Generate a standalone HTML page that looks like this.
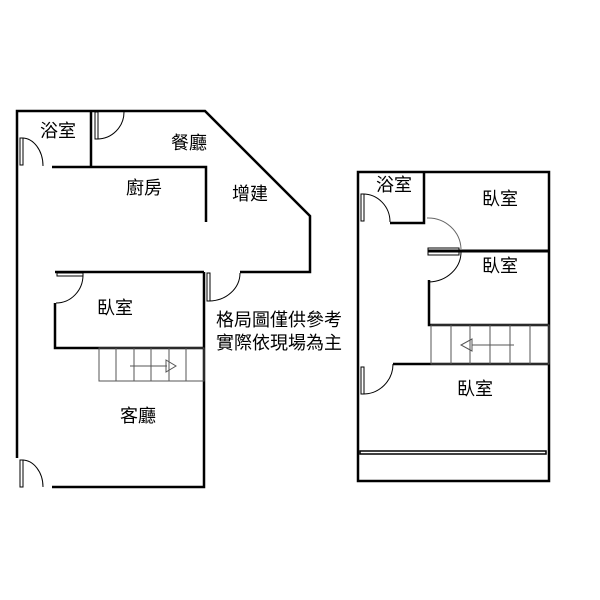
<!DOCTYPE html>
<html><head><meta charset="utf-8"><style>
html,body{margin:0;padding:0;background:#fff;}
svg{display:block}
text{font-family:"Liberation Sans","Noto Sans CJK TC",sans-serif;font-size:18px;fill:#000}
</style></head><body>
<svg width="600" height="600" viewBox="0 0 600 600" xmlns="http://www.w3.org/2000/svg">
<g fill="none" stroke="#000" stroke-width="2.5">
<polyline points="52,487 204,487 204,272"/>
<polyline points="17,458 17,111 205,111 310,216 310,272 240,272"/>
<line x1="91" y1="111" x2="91" y2="166"/>
<polyline points="52,167 206,167 206,222"/>
<polyline points="55,303 55,348 204,348"/>
<line x1="55" y1="272" x2="204" y2="272"/>
<rect x="358" y="172" width="191" height="309"/>
<polyline points="390,223 424,223 424,172"/>
<line x1="428" y1="251" x2="549" y2="251" stroke-width="3"/>
<polyline points="429,280 429,325 549,325"/>
<line x1="393" y1="364" x2="549" y2="364"/>
</g>
<g fill="none" stroke="#000" stroke-width="1">
<rect x="20" y="138" width="3" height="27"/>
<path d="M22,138 A21,28 0 0 1 43,166"/>
<rect x="95" y="112" width="3" height="27"/>
<path d="M97,139 A27,27 0 0 0 124,112"/>
<rect x="57" y="273" width="26" height="3"/>
<path d="M83,275 A27,28 0 0 1 56,303"/>
<rect x="207" y="273" width="3" height="28"/>
<path d="M209,301 A31,28 0 0 0 240,273"/>
<rect x="20" y="460" width="3" height="27"/>
<path d="M22,460 A21,27 0 0 1 43,487"/>
<rect x="361" y="194" width="3" height="27"/>
<path d="M363,194 A27,28 0 0 1 390,222"/>
<rect x="428" y="248" width="31" height="3"/>
<path d="M427,218 A33,32 0 0 1 461,249" stroke="#666"/>
<rect x="428" y="252" width="31" height="3"/>
<path d="M461,252 A33,30 0 0 1 429,282"/>
<rect x="361" y="367" width="3" height="27"/>
<path d="M363,394 A30,30 0 0 0 393,364"/>
<rect x="360" y="451" width="186" height="3" stroke-width="1.5"/>
</g>
<g fill="none" stroke="#555" stroke-width="1">
<rect x="99" y="348" width="105" height="33"/>
<line x1="116" y1="348" x2="116" y2="381"/><line x1="134" y1="348" x2="134" y2="381"/>
<line x1="151" y1="348" x2="151" y2="381"/><line x1="169" y1="348" x2="169" y2="381"/>
<line x1="186" y1="348" x2="186" y2="381"/>
<line x1="130" y1="366" x2="167" y2="366"/>
<polygon points="166,360 176,366 166,372"/>
<rect x="431" y="325" width="118" height="39"/>
<line x1="451" y1="325" x2="451" y2="364"/><line x1="470" y1="325" x2="470" y2="364"/>
<line x1="490" y1="325" x2="490" y2="364"/><line x1="510" y1="325" x2="510" y2="364"/>
<line x1="530" y1="325" x2="530" y2="364"/>
<line x1="472" y1="345" x2="514" y2="345"/>
<polygon points="472,339 461,345 472,351"/>
</g>
<text x="40" y="137">浴室</text>
<text x="171" y="149">餐廳</text>
<text x="126" y="194">廚房</text>
<text x="232" y="200">增建</text>
<text x="97" y="314">臥室</text>
<text x="120" y="422">客廳</text>
<text x="216" y="326">格局圖僅供參考</text>
<text x="216" y="349">實際依現場為主</text>
<text x="376" y="191">浴室</text>
<text x="482" y="205">臥室</text>
<text x="482" y="272">臥室</text>
<text x="457" y="395">臥室</text>
</svg>
</body></html>
